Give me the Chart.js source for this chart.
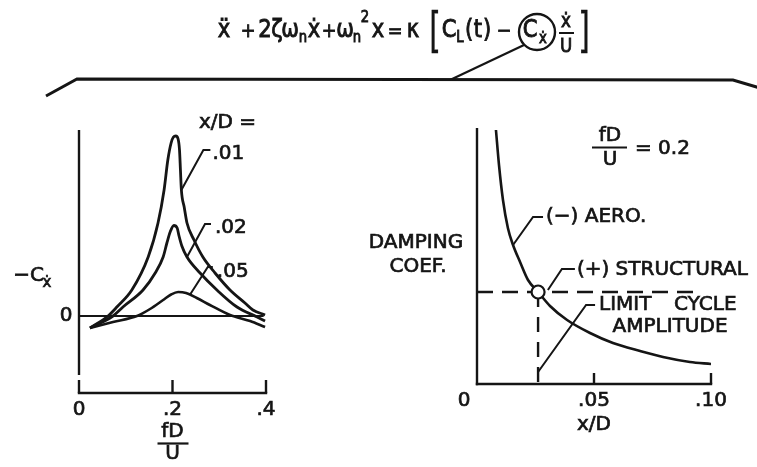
<!DOCTYPE html>
<html>
<head>
<meta charset="utf-8">
<script src="https://cdn.jsdelivr.net/npm/chart.js@4.4.1/dist/chart.umd.min.js"></script>
<style>
  html, body { margin: 0; padding: 0; background: #fff; }
  #wrap { position: relative; width: 757px; height: 467px; overflow: hidden; background: #fff; }
  #wrap canvas { position: absolute; left: 0; top: 0; }
</style>
</head>
<body>
<div id="wrap">
  <canvas id="leftPanel" width="757" height="467"></canvas>
  <canvas id="rightPanel" width="757" height="467"></canvas>
</div>
<script>
// ---- Left panel: -C_xdot against reduced frequency fD/U, one curve per amplitude x/D ----
const fdU_01 = [0.0235, 0.062, 0.081, 0.113, 0.148, 0.169, 0.182, 0.190, 0.197, 0.202, 0.207, 0.212, 0.215, 0.217, 0.219, 0.225, 0.231, 0.246, 0.265, 0.291, 0.323, 0.355, 0.372, 0.398];
const negCx_01 = [-1.2, 0, 0.9, 2.6, 5.9, 9.3, 12.6, 15.6, 17.3, 17.9, 18.0, 17.7, 16.6, 14.6, 12.6, 10.9, 9.3, 7.6, 5.9, 4.3, 2.6, 1.3, 0.6, 0.1];

const fdU_02 = [0.0235, 0.0727, 0.094, 0.137, 0.163, 0.180, 0.188, 0.195, 0.203, 0.210, 0.214, 0.220, 0.231, 0.259, 0.295, 0.338, 0.381, 0.398];
const negCx_02 = [-1.2, 0, 0.9, 2.6, 4.3, 5.9, 7.3, 8.4, 9.05, 8.8, 8.0, 7.0, 5.9, 4.3, 2.6, 0.9, -0.1, -0.5];

const fdU_05 = [0.0235, 0.0727, 0.124, 0.152, 0.180, 0.197, 0.212, 0.229, 0.252, 0.280, 0.323, 0.366, 0.398];
const negCx_05 = [-1.2, -0.6, 0, 0.7, 1.6, 2.15, 2.4, 2.3, 1.8, 1.1, 0.1, -0.5, -1.1];

const zeroLineX = [0, 0.395];
const zeroLineY = [0, 0];

const leftTicks = [0, 0.2, 0.4];
const leftTickLabels = ['0', '.2', '.4'];
const amplitudeLabels = ['.01', '.02', '.05'];

// ---- Right panel: damping coefficients against amplitude x/D at fD/U = 0.2 ----
const aeroX = [0.0081, 0.0094, 0.0111, 0.0132, 0.0154, 0.0184, 0.0218, 0.0261, 0.0312, 0.0385, 0.0483, 0.0581, 0.0697, 0.0795, 0.0910, 0.100];
const aeroY = [2.54, 2.19, 1.84, 1.56, 1.39, 1.22, 1.04, 0.92, 0.78, 0.64, 0.51, 0.41, 0.33, 0.27, 0.22, 0.20];

const structuralDamping = 0.92;
const structuralEndX = 0.093;
const limitAmplitude = 0.0261;

const rightTicks = [0.05, 0.10];
const rightTickLabels = ['.05', '.10'];

const INK = '#151515';
const FONT = '"DejaVu Sans", "Liberation Sans", sans-serif';

function pts(xs, ys) { return xs.map((x, i) => ({ x, y: ys[i] })); }

function text(ctx, s, x, y, o = {}) {
  ctx.save();
  ctx.font = (o.size || 20) + 'px ' + FONT;
  ctx.fillStyle = INK;
  ctx.strokeStyle = INK;
  ctx.lineWidth = o.weight == null ? 0.7 : o.weight;
  ctx.textAlign = o.align || 'left';
  ctx.textBaseline = o.base || 'middle';
  ctx.translate(x, y);
  if (o.sx) ctx.scale(o.sx, 1);
  ctx.fillText(s, 0, 0);
  if (ctx.lineWidth > 0) ctx.strokeText(s, 0, 0);
  ctx.restore();
}

function path(ctx, p, w = 2.2, dash) {
  ctx.save();
  ctx.strokeStyle = INK;
  ctx.lineWidth = w;
  ctx.lineCap = 'butt';
  ctx.lineJoin = 'miter';
  if (dash) ctx.setLineDash(dash);
  ctx.beginPath();
  p.forEach((q, i) => i ? ctx.lineTo(q[0], q[1]) : ctx.moveTo(q[0], q[1]));
  ctx.stroke();
  ctx.restore();
}

// leader: starts on a curve (data coords), bends up to a short horizontal stub
function leader(ctx, sx, sy, xs, ys, dx, dy, stub) {
  const x0 = xs.getPixelForValue(sx), y0 = ys.getPixelForValue(sy);
  path(ctx, [[x0, y0], [x0 + dx, y0 + dy], [x0 + dx + stub, y0 + dy]], 2);
  return [x0 + dx + stub, y0 + dy];
}

// the equation heading and the bracket that ties C_xdot to the panels
function drawHeading(ctx) {
  const sx = 0.88;
  const toks = [
    ['\u1E8D', 224, 37, 24], ['+', 248, 37, 20], ['2', 265, 37, 24], ['\u03B6', 277, 37, 24],
    ['\u03C9', 290, 37, 24], ['n', 303, 42, 15], ['\u1E8B', 314, 37, 24], ['+', 329, 37, 20],
    ['\u03C9', 345, 37, 24], ['n', 357, 42, 15], ['2', 365, 22, 15], ['x', 378, 37, 24],
    ['=', 395, 37, 20], ['\u03BA', 413, 37, 24], ['C', 449, 37, 24],
    ['L', 460, 42, 15], ['(', 469, 37, 24], ['t', 478, 37, 24], [')', 487, 37, 24],
    ['\u2212', 504, 37, 20], ['C', 530, 37, 24], ['\u1E8B', 543, 43, 15],
    ['\u1E8B', 566, 27, 19], ['U', 566, 52, 19]
  ];
  toks.forEach(t => text(ctx, t[0], t[1], t[2], { size: t[3], align: 'center', base: 'alphabetic', sx, weight: 0.9 }));
  // square brackets
  text(ctx, '[', 435, 47, { size: 48, align: 'center', base: 'alphabetic', sx: 0.62, weight: 0.4 });
  text(ctx, ']', 584, 47, { size: 48, align: 'center', base: 'alphabetic', sx: 0.62, weight: 0.4 });
  // fraction bar of xdot/U
  path(ctx, [[559, 33], [574, 33]], 2);
  // circle round C_xdot
  ctx.save();
  ctx.strokeStyle = INK; ctx.lineWidth = 2.4;
  ctx.beginPath(); ctx.arc(537, 32, 18, 0, Math.PI * 2); ctx.stroke();
  ctx.restore();
  // bracket line across both panels and its pointer to the circle
  path(ctx, [[46, 96], [77, 79], [733, 80], [760, 88]], 3);
  path(ctx, [[450, 80], [524, 45]], 2.2);
}

const leftDecor = {
  id: 'leftDecor',
  afterDraw(chart) {
    const { ctx, chartArea: a, scales: { x, y } } = chart;
    const x0 = x.getPixelForValue(0);
    // axes: y axis stops short of the separate x axis
    path(ctx, [[x0, a.top], [x0, y.getPixelForValue(-5.9)]], 2.4);
    path(ctx, [[x0 - 1.2, a.bottom], [x.getPixelForValue(0.4) + 1.2, a.bottom]], 2.6);
    leftTicks.forEach((v, i) => {
      const px = x.getPixelForValue(v);
      path(ctx, [[px, a.bottom - 13], [px, a.bottom]], 2.4);
      text(ctx, leftTickLabels[i], px, a.bottom + 17, { align: 'center' });
    });
    text(ctx, '0', x0 - 13, y.getPixelForValue(0), { align: 'center' });
    // axis titles
    text(ctx, '\u2212C', 44, 276, { align: 'right' });
    text(ctx, '\u1E8B', 47, 283, { align: 'center', size: 15 });
    const fx = x.getPixelForValue(0.2);
    text(ctx, 'fD', fx, 432, { align: 'center' });
    path(ctx, [[fx - 15, 443.5], [fx + 16, 443.5]], 2.2);
    text(ctx, 'U', fx, 454, { align: 'center' });
    // amplitude labels
    text(ctx, 'x/D =', 199, 123);
    let e = leader(ctx, 0.219, 12.6, x, y, 22, -40, 7);
    text(ctx, amplitudeLabels[0], e[0] + 2, e[1] + 4);
    e = leader(ctx, 0.231, 5.9, x, y, 18, -33, 6);
    text(ctx, amplitudeLabels[1], e[0] + 4, e[1] + 4);
    e = leader(ctx, 0.237, 2.1, x, y, 18, -28, 5);
    text(ctx, amplitudeLabels[2], e[0] + 4, e[1] + 5);
    drawHeading(ctx);
  }
};

const rightDecor = {
  id: 'rightDecor',
  afterDraw(chart) {
    const { ctx, chartArea: a, scales: { x, y } } = chart;
    const x0 = x.getPixelForValue(0);
    path(ctx, [[x0, a.top], [x0, a.bottom + 1.2]], 2.4);
    path(ctx, [[x0 - 1.2, a.bottom], [x.getPixelForValue(0.1) + 1.2, a.bottom]], 2.6);
    rightTicks.forEach((v, i) => {
      const px = x.getPixelForValue(v);
      path(ctx, [[px, a.bottom - 11], [px, a.bottom]], 2.4);
      text(ctx, rightTickLabels[i], px, a.bottom + 17, { align: 'center' });
    });
    text(ctx, '0', x0 - 13, a.bottom + 17, { align: 'center' });
    text(ctx, 'x/D', x.getPixelForValue(0.05), a.bottom + 41, { align: 'center' });
    text(ctx, 'DAMPING', 416, 243, { align: 'center' });
    text(ctx, 'COEF.', 418, 267, { align: 'center' });
    // reduced-frequency note
    text(ctx, 'fD', 610, 136, { align: 'center' });
    path(ctx, [[592, 147.5], [627, 147.5]], 2.2);
    text(ctx, 'U', 610, 160, { align: 'center' });
    text(ctx, '= 0.2', 635, 149);
    // curve labels
    let e = leader(ctx, 0.0154, 1.39, x, y, 20, -28, 10);
    text(ctx, '(\u2212) AERO.', e[0] + 3, e[1]);
    e = leader(ctx, limitAmplitude + 0.0042, structuralDamping + 0.02, x, y, 14, -21, 13);
    text(ctx, '(+) STRUCTURAL', e[0] + 2, e[1] + 1);
    e = leader(ctx, limitAmplitude, 0.12, x, y, 48, -67, 9);
    text(ctx, 'LIMIT', e[0] + 4, e[1]);
    text(ctx, 'CYCLE', e[0] + 79, e[1]);
    text(ctx, 'AMPLITUDE', e[0] + 75, e[1] + 22, { align: 'center' });
  }
};

const lineStyle = { showLine: true, borderColor: INK, pointRadius: 0, fill: false, cubicInterpolationMode: 'monotone' };

new Chart(document.getElementById('leftPanel'), {
  type: 'scatter',
  data: {
    datasets: [
      { ...lineStyle, data: pts(fdU_01, negCx_01), borderWidth: 2.8 },
      { ...lineStyle, data: pts(fdU_02, negCx_02), borderWidth: 2.8 },
      { ...lineStyle, data: pts(fdU_05, negCx_05), borderWidth: 2.6 },
      { ...lineStyle, data: pts(zeroLineX, zeroLineY), borderWidth: 2.2, cubicInterpolationMode: 'default', tension: 0 }
    ]
  },
  options: {
    responsive: false, animation: false, events: [],
    layout: { padding: { left: 79, right: 491, top: 130, bottom: 74 } },
    scales: {
      x: { type: 'linear', min: 0, max: 0.4, display: false },
      y: { type: 'linear', min: -7.7, max: 18.6, display: false }
    },
    plugins: { legend: { display: false }, tooltip: { enabled: false } }
  },
  plugins: [leftDecor]
});

new Chart(document.getElementById('rightPanel'), {
  type: 'scatter',
  data: {
    datasets: [
      { data: [{ x: limitAmplitude, y: structuralDamping }], pointRadius: 6.5, pointBorderWidth: 2.2,
        pointBackgroundColor: '#fff', pointBorderColor: INK, showLine: false, order: 0 },
      { ...lineStyle, data: pts(aeroX, aeroY), borderWidth: 2.6, order: 1 },
      { ...lineStyle, data: [{ x: 0, y: structuralDamping }, { x: structuralEndX, y: structuralDamping }],
        borderWidth: 2.4, borderDash: [16, 9], tension: 0, cubicInterpolationMode: 'default', order: 2 },
      { ...lineStyle, data: [{ x: limitAmplitude, y: structuralDamping }, { x: limitAmplitude, y: 0 }],
        borderWidth: 2.4, borderDash: [15, 10], tension: 0, cubicInterpolationMode: 'default', order: 2 }
    ]
  },
  options: {
    responsive: false, animation: false, events: [],
    layout: { padding: { left: 477, right: 46, top: 128, bottom: 83 } },
    scales: {
      x: { type: 'linear', min: 0, max: 0.1, display: false },
      y: { type: 'linear', min: 0, max: 2.56, display: false }
    },
    plugins: { legend: { display: false }, tooltip: { enabled: false } }
  },
  plugins: [rightDecor]
});
</script>
</body>
</html>
